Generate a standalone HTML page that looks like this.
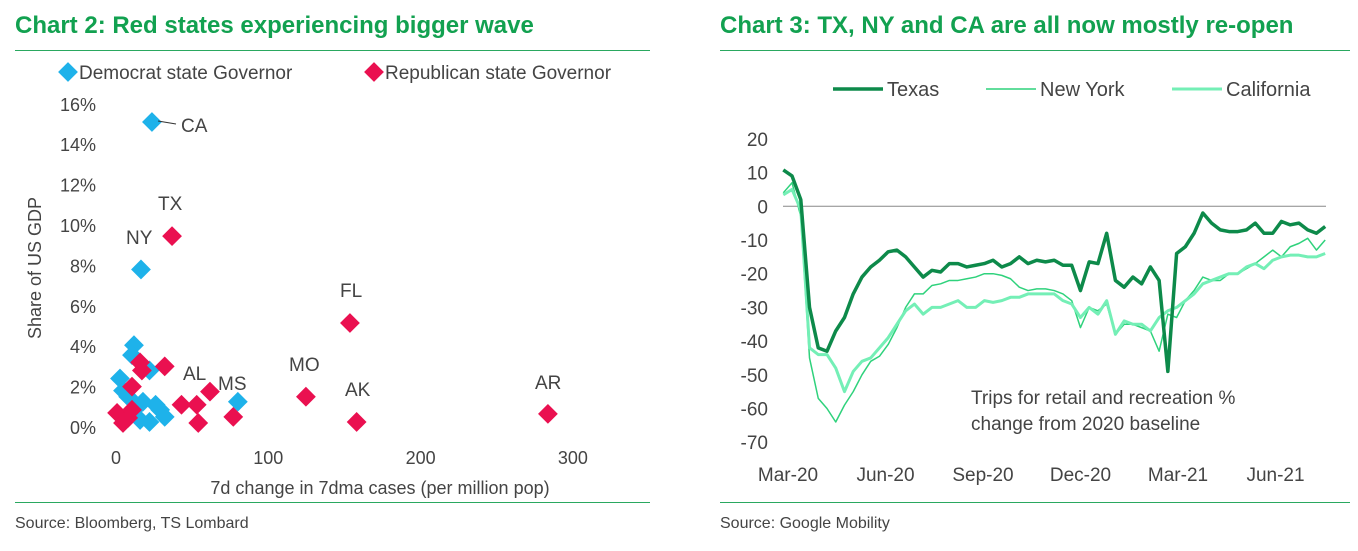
<!DOCTYPE html>
<html><head><meta charset="utf-8"><style>
body{margin:0;width:1358px;height:551px;background:#fff;font-family:"Liberation Sans",sans-serif;overflow:hidden;position:relative}
.t{position:absolute;font-weight:bold;font-size:24px;color:#12a150}
.rule{position:absolute;height:1px;background:#2aa860}
.src{position:absolute;font-size:16px;color:#444}
svg{position:absolute;left:0;top:0}
svg text{font-family:"Liberation Sans",sans-serif;fill:#444}
</style></head><body>
<div class="t" style="left:15px;top:12px">Chart 2: Red states experiencing bigger wave</div>
<div class="t" style="left:720px;top:12px">Chart 3: TX, NY and CA are all now mostly re-open</div>
<div class="rule" style="left:15px;top:50px;width:635px"></div>
<div class="rule" style="left:720px;top:50px;width:630px"></div>
<div class="rule" style="left:15px;top:502px;width:635px"></div>
<div class="rule" style="left:720px;top:502px;width:630px"></div>
<div class="src" style="left:15px;top:515px">Source: Bloomberg, TS Lombard</div>
<div class="src" style="left:720px;top:515px">Source: Google Mobility</div>
<svg id="s" width="1358" height="551"></svg>
<script>
// Scatter data
const demX=[23.6,16.4,11.8,10.5,2.6,4.6,22,17.7,29,22,15.8,32,80,8,14,26];
const demY=[15.1,7.8,4.05,3.56,2.4,1.8,2.8,1.25,0.85,0.25,0.35,0.5,1.25,1.5,1.0,1.1];
const repX=[36.8,153.6,124.7,158,283.6,61.7,77,32,15.8,17,10.5,0.7,8,10.5,4.6,43,53,54];
const repY=[9.45,5.15,1.5,0.25,0.65,1.75,0.5,3.0,3.2,2.8,2.0,0.7,0.45,0.85,0.2,1.1,1.1,0.2];
const sxTicks=[0,100,200,300];
const syTicks=[0,2,4,6,8,10,12,14,16];
// Line data (weekly from Mar-20)
const months=["Mar-20","Jun-20","Sep-20","Dec-20","Mar-21","Jun-21"];
const lyTicks=[20,10,0,-10,-20,-30,-40,-50,-60,-70];
const texas=[10.8,9,2,-30,-42,-43,-37,-33,-26,-21,-18,-16,-13.5,-13,-15,-18,-21,-19,-19.5,-17,-17,-18,-17.5,-17,-16,-18,-17,-15,-17,-16,-16.5,-16,-17.5,-17.5,-25,-16.5,-17,-8,-22,-24,-21,-23,-18,-22,-49,-14,-12,-8,-2,-5,-7,-7.5,-7.5,-7,-5,-8,-8,-4.5,-5.5,-5,-7,-8,-6];
const newYork=[4,7,-3,-45,-57,-60,-64,-59,-55,-50,-46,-44.5,-41,-36,-30,-26,-26,-23.5,-23,-22,-22,-21.5,-21,-20,-20,-20.5,-21.5,-24,-25,-24.5,-24.5,-25,-26,-28,-36,-30,-31,-29,-38,-35,-35,-36,-37,-43,-32,-33,-28,-25,-21,-22,-22,-20,-20,-18.5,-17,-15,-13,-15,-12,-11,-9.5,-13,-10];
const california=[3.4,5,-1,-42,-44,-44,-48,-55,-49,-46,-45,-42,-39,-35,-31,-29,-32,-30,-30,-29,-28,-30,-30,-28,-28.5,-28,-27,-27,-26,-26,-26,-26,-28,-29,-33,-30,-32,-28,-38,-34,-35,-35,-37,-33,-31,-30,-28,-26,-23,-22,-21,-20,-20,-18,-17,-18.5,-16,-15,-14.5,-14.5,-15,-15,-14];

const s=document.getElementById('s');const NS='http://www.w3.org/2000/svg';
function mk(t,a,txt){const e=document.createElementNS(NS,t);for(const k in a)e.setAttribute(k,a[k]);if(txt!==undefined)e.textContent=txt;s.appendChild(e);return e;}
const sx=v=>116+v*1.523, sy=v=>427-v*20.2;
syTicks.forEach(v=>{const e=mk('text',{x:96,y:sy(v)+7,'text-anchor':'end','font-size':18},v+'%');

});
sxTicks.forEach(v=>{const e=mk('text',{x:sx(v),y:464,'text-anchor':'middle','font-size':18},v);

});
let e=mk('text',{x:380,y:494,'text-anchor':'middle','font-size':18},'7d change in 7dma cases (per million pop)');


e=mk('text',{x:0,y:0,'text-anchor':'middle','font-size':18,transform:'translate(41,268) rotate(-90)'},'Share of US GDP');


function dia(x,y,c,n){const d=mk('rect',{x:x-7,y:y-7,width:14,height:14,fill:c,transform:`rotate(45 ${x} ${y})`});

}
demX.forEach((v,i)=>dia(sx(v),sy(demY[i]),'#1eb2ea','dem-point'));
repX.forEach((v,i)=>dia(sx(v),sy(repY[i]),'#ea1050','rep-point'));
mk('line',{x1:158,y1:121,x2:176,y2:124,stroke:'#333','stroke-width':1});
[['CA',181,132],['TX',158,210],['NY',126,244],['FL',340,297],['MO',289,371],['AK',345,396],['AR',535,389],['AL',183,380],['MS',218,390]].forEach(l=>{
const t=mk('text',{x:l[1],y:l[2],'font-size':19},l[0]);

});
dia(68,72,'#1eb2ea','legend-dem-marker');
e=mk('text',{x:79,y:79,'font-size':19},'Democrat state Governor');


dia(374,72,'#ea1050','legend-rep-marker');
e=mk('text',{x:385,y:79,'font-size':19},'Republican state Governor');



// Line chart
const lx=i=>783.3+i*8.74, ly=v=>206.3-v*3.37;
lyTicks.forEach(v=>{const t=mk('text',{x:768,y:ly(v)+7,'text-anchor':'end','font-size':19},v);

});
months.forEach((m,i)=>{const t=mk('text',{x:788+i*97.5,y:481,'text-anchor':'middle','font-size':19},m);

});
e=mk('line',{x1:783,y1:ly(0),x2:1326,y2:ly(0),stroke:'#888','stroke-width':1});


function line(d,c,w,n){const p=mk('polyline',{points:d.map((v,i)=>lx(i)+','+ly(v)).join(' '),fill:'none',stroke:c,'stroke-width':w,'stroke-linejoin':'round'});

}
line(newYork,'#2fd27c',1.5,'new-york-line');
line(california,'#74efb6',3,'california-line');
line(texas,'#0d8a4a',3.5,'texas-line');
[['Texas',833,'#0d8a4a',3.5],['New York',986,'#2fd27c',1.5],['California',1172,'#74efb6',3]].forEach(l=>{
const a=mk('line',{x1:l[1],y1:89,x2:l[1]+50,y2:89,stroke:l[2],'stroke-width':l[3]});


const t=mk('text',{x:l[1]+54,y:96,'font-size':20},l[0]);

});
e=mk('text',{x:971,y:404,'font-size':19},'Trips for retail and recreation %');


e=mk('text',{x:971,y:430,'font-size':19},'change from 2020 baseline');


</script>
</body></html>
